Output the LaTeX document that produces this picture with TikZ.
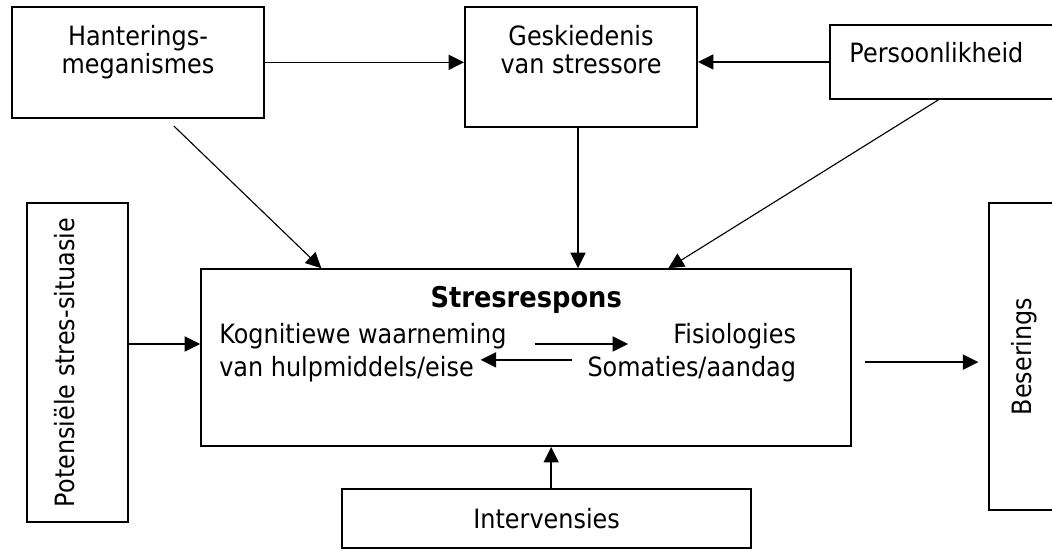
\documentclass[tikz,border=0pt]{standalone}
\usepackage{fontspec}
\setmainfont{DejaVu Sans}[FakeStretch=0.90]
\usepackage{tikz}
\usetikzlibrary{positioning,arrows.meta}

\begin{document}
\begin{tikzpicture}[
  blk/.style={draw, line width=1.4pt, inner sep=0pt},
  txt/.style={inner sep=0pt, align=center, font=\fontsize{20}{21}\selectfont},
  duo/.style={inner sep=0pt, align=#1, font=\fontsize{20}{24.5}\selectfont},
  ttl/.style={inner sep=0pt, font=\fontsize{21.5}{24}\selectfont\bfseries},
  arr/.style={-{Triangle[length=0.41cm, width=0.40cm]}, line width=1.1pt},
  thin/.style={-{Triangle[length=0.41cm, width=0.40cm]}, line width=0.85pt}
]
\path[use as bounding box, fill=white] (0,0) rectangle (27.83,14.55);

% ── Central box ──────────────────────────────────────────────
\node[blk, minimum width=17.20cm, minimum height=4.68cm] (resp) at (13.92,5.09) {};
\node[ttl, below=0.48cm of resp.north] (resp_ttl) {Stresrespons};
\node[duo=left, below right=1.46cm and 0.50cm of resp.north west] (kog) {Kognitiewe waarneming\\van hulpmiddels/eise};
\node[duo=right, below left=1.46cm and 1.48cm of resp.north east] (fis) {Fisiologies\\Somaties/aandag};

% ── Top row ──────────────────────────────────────────────────
\node[blk, minimum width=6.67cm, minimum height=2.94cm] (hant) at (3.65,12.90) {};
\node[txt, below=0.50cm of hant.north] (hant_txt) {Hanterings-\\meganismes};
\node[blk, minimum width=6.14cm, minimum height=3.18cm] (gesk) at (15.37,12.78) {};
\node[txt, below=0.50cm of gesk.north] (gesk_txt) {Geskiedenis\\van stressore};
\node[blk, minimum width=6.88cm, minimum height=1.96cm] (pers) at (25.40,12.91) {};
\node[txt, below right=0.48cm and 0.53cm of pers.north west] (pers_txt) {Persoonlikheid};

% ── Side boxes ───────────────────────────────────────────────
\node[blk, minimum width=2.67cm, minimum height=8.44cm] (pot) at (2.05,4.96) {};
\node[txt, rotate=90] (pot_txt) at ([xshift=-0.33cm]pot.center) {Potensiële stres-situasie};
\node[blk, minimum width=2.67cm, minimum height=8.12cm] (bes) at (27.50,5.12) {};
\node[txt, rotate=90] (bes_txt) at ([xshift=-0.41cm]bes.center) {Beserings};

% ── Bottom box ───────────────────────────────────────────────
\node[blk, txt, minimum width=10.82cm, minimum height=1.56cm] (intv) at (14.46,0.83) {Intervensies};

% ── Top row arrows ───────────────────────────────────────────
\draw[arr] (hant.east) -- (gesk.west |- hant.east);
\draw[arr] (pers.west) -- (gesk.east |- pers.west);

% ── Arrows into the central box ──────────────────────────────
\draw[thin] ([xshift=0.95cm, yshift=-0.19cm]hant.south) -- ([xshift=-5.42cm]resp.north);
\draw[arr] ([xshift=-0.08cm]gesk.south) -- ([xshift=-0.08cm]gesk.south |- resp.north);
\draw[thin] ([xshift=-0.58cm]pers.south) -- ([xshift=3.76cm]resp.north);
\coordinate (lvl) at ([yshift=0.36cm]resp.west);
\draw[arr] (pot.east |- lvl) -- (lvl);
\draw[arr] ([xshift=0.12cm]intv.north) -- ([xshift=0.12cm]intv.north |- resp.south);

% ── Inner arrows ─────────────────────────────────────────────
\draw[arr] ([xshift=0.74cm]kog.east |- lvl) -- ([xshift=1.08cm]fis.west |- lvl);
\draw[arr] ([shift={(-0.40cm,-0.42cm)}]fis.west |- lvl) -- ([shift={(-0.69cm,-0.42cm)}]kog.east |- lvl);

% ── Output arrow ─────────────────────────────────────────────
\draw[arr, shorten <=0.34cm, shorten >=0.26cm] ([yshift=-0.12cm]resp.east) -- ([yshift=-0.12cm]bes.west |- resp.east);

\end{tikzpicture}
\end{document}
